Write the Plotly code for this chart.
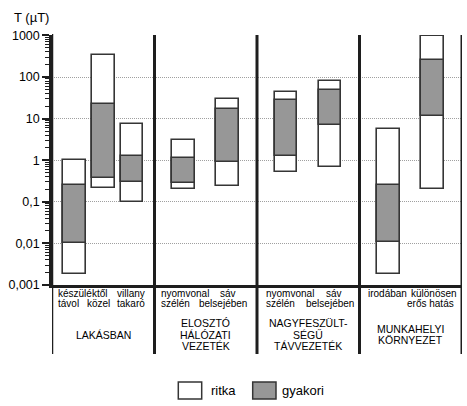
import plotly.graph_objects as go
import numpy as np

# ---------------- data ----------------
group_names = ["LAKÁSBAN", "ELOSZTÓ\nHÁLÓZATI\nVEZETÉK", "NAGYFESZÜLT-\nSÉGŰ\nTÁVVEZETÉK", "MUNKAHELYI\nKÖRNYEZET"]
bar_group = [0, 0, 0, 1, 1, 2, 2, 3, 3]
ritka_low = [0.0018, 0.21, 0.1, 0.2, 0.24, 0.52, 0.7, 0.0018, 0.2]
ritka_high = [1.0, 330, 7.6, 3.1, 29.5, 44, 80, 5.6, 985]
gyakori_low = [0.0105, 0.38, 0.3, 0.29, 0.91, 1.27, 7.2, 0.011, 11.8]
gyakori_high = [0.26, 22, 1.25, 1.16, 17.4, 28, 48.7, 0.26, 260]
sub_label_words = [
    [["készüléktől", "villany"], ["távol", "közel", "takaró"]],
    [["nyomvonal", "sáv"], ["szélén", "belsejében"]],
    [["nyomvonal", "sáv"], ["szélén", "belsejében"]],
    [["irodában", "különösen"], ["erős hatás"]],
]
tick_values = [0.001, 0.01, 0.1, 1, 10, 100, 1000]
tick_labels = ["0,001", "0,01", "0,1", "1", "10", "100", "1000"]
legend_labels = ["ritka", "gyakori"]
y_title = "T (µT)"

# ---------------- layout helpers ----------------
FONT = "Liberation Sans, Arial, sans-serif"
DARK = "#1e1e1e"
GRAY = "#979797"
OUTLINE = "#353535"
TXT = "#000000"

# bar positions inside each section (section = 1 x-unit)
offsets = {3: [0.22, 0.5, 0.78], 2: [0.285, 0.71]}
counts = {g: bar_group.count(g) for g in set(bar_group)}
xpos = []
seen = {}
for g in bar_group:
    k = seen.get(g, 0)
    xpos.append(g + offsets[counts[g]][k])
    seen[g] = k + 1

ritka_len = [h - l for h, l in zip(ritka_high, ritka_low)]
gyak_len = [h - l for h, l in zip(gyakori_high, gyakori_low)]

fig = go.Figure()
fig.add_trace(go.Bar(x=xpos, y=ritka_len, base=ritka_low, width=0.22,
                     marker=dict(color="white", line=dict(color=OUTLINE, width=1.6)),
                     name=legend_labels[0], showlegend=False, hoverinfo="skip"))
fig.add_trace(go.Bar(x=xpos, y=gyak_len, base=gyakori_low, width=0.22,
                     marker=dict(color=GRAY, line=dict(color=OUTLINE, width=1.6)),
                     name=legend_labels[1], showlegend=False, hoverinfo="skip"))

# plot geometry in px (for converting layout placements)
L, T, W, H = 52, 35, 410, 250
def py(p):  # pixel y -> paper y
    return (T + H - p) / H
def px(p):
    return (p - L) / W

shapes = []
annotations = []
# section dividers + left axis extension
for xv in range(0, 5):
    shapes.append(dict(type="line", xref="x", yref="paper", x0=xv, x1=xv,
                       y0=py(354), y1=1.0 if xv else 1.004,
                       line=dict(color=DARK, width=3 if xv else 2.5)))

# sub labels: placement (fraction within section, anchor)
word_place = [
    [[(0.035, "left"), (0.925, "right")], [(0.035, "left"), (0.45, "center"), (0.925, "right")]],
    [[(0.039, "left"), (0.81, "right")], [(0.039, "left"), (0.924, "right")]],
    [[(0.071, "left"), (0.846, "right")], [(0.071, "left"), (0.966, "right")]],
    [[(0.061, "left"), (0.972, "right")], [(0.94, "right")]],
]
line_y = [293, 303]
for g, lines in enumerate(sub_label_words):
    for li, words in enumerate(lines):
        for w, (frac, anc) in zip(words, word_place[g][li]):
            annotations.append(dict(x=g + frac, y=py(line_y[li]), xref="x", yref="paper",
                                    text=w, showarrow=False, xanchor=anc, yanchor="middle",
                                    font=dict(family=FONT, size=10, color=TXT)))

# group labels
for g, name in enumerate(group_names):
    parts = name.split("\n")
    n = len(parts)
    for i, part in enumerate(parts):
        yc = 334.7 + (i - (n - 1) / 2) * 11.4
        annotations.append(dict(x=g + 0.5, y=py(yc), xref="x", yref="paper",
                                text=part, showarrow=False, xanchor="center", yanchor="middle",
                                font=dict(family=FONT, size=10.5, color=TXT)))

# y title
annotations.append(dict(x=px(12), y=py(18), xref="paper", yref="paper", text=y_title,
                        showarrow=False, xanchor="left", yanchor="middle",
                        font=dict(family=FONT, size=13, color=TXT)))

# legend (boxes + labels)
leg_boxes = [(178.3, 201.7, "white"), (252.7, 276, GRAY)]
leg_text_x = [209, 280]
for (x0, x1, col), lab, tx in zip(leg_boxes, legend_labels, leg_text_x):
    shapes.append(dict(type="rect", xref="paper", yref="paper",
                       x0=px(x0), x1=px(x1), y0=py(399), y1=py(382),
                       fillcolor=col, line=dict(color=OUTLINE, width=1.5)))
    annotations.append(dict(x=px(tx), y=py(390.5), xref="paper", yref="paper", text=lab,
                            showarrow=False, xanchor="left", yanchor="middle",
                            font=dict(family=FONT, size=13, color=TXT)))

minor_vals = [m * 10.0 ** e for e in range(-3, 3) for m in range(2, 10)]

fig.update_layout(
    width=467, height=406,
    margin=dict(l=L, r=467 - L - W, t=T, b=406 - T - H),
    paper_bgcolor="white", plot_bgcolor="white",
    barmode="overlay", bargap=0,
    showlegend=False,
    font=dict(family=FONT, color=TXT),
    shapes=shapes, annotations=annotations,
    xaxis=dict(range=[0, 4], showgrid=False, zeroline=False, showticklabels=False,
               ticks="", showline=True, linecolor=DARK, linewidth=3, fixedrange=True),
    yaxis=dict(type="log", range=[-3, 3.01], tickmode="array", tickvals=tick_values,
               ticktext=tick_labels, ticks="outside", ticklen=7, tickwidth=1.5,
               tickcolor=DARK, showline=True, linecolor=DARK, linewidth=2.5,
               showgrid=True, gridcolor="#a0a0a0", gridwidth=1, griddash="1px,1px",
               zeroline=False, tickfont=dict(family=FONT, size=12.5, color=TXT),
               minor=dict(tickmode="array", tickvals=minor_vals, ticks="outside",
                          ticklen=4, tickwidth=1, tickcolor=DARK, showgrid=False),
               fixedrange=True),
)

fig.write_html("out.html", config={"displayModeBar": False},
               post_script="document.body.style.margin='0';")
